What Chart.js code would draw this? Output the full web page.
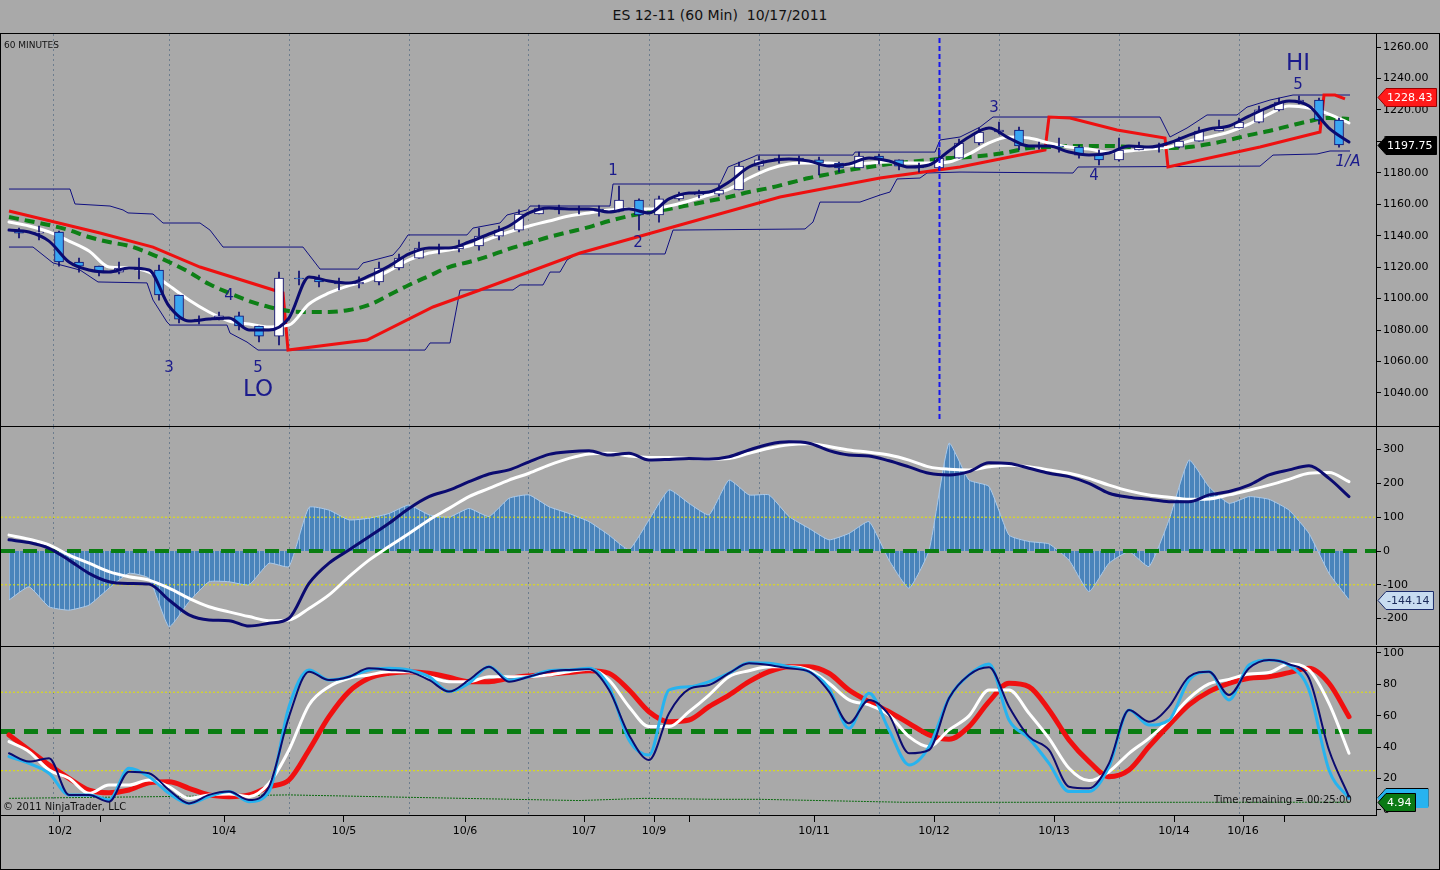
<!DOCTYPE html>
<html>
<head>
<meta charset="utf-8">
<title>ES 12-11 (60 Min) 10/17/2011</title>
<script src="https://cdn.jsdelivr.net/npm/chart.js@4.4.1/dist/chart.umd.min.js"></script>
<style>
  body { margin: 0; width: 1440px; height: 870px; overflow: hidden; position: relative;
         background: #a9a9a9; font-family: 'DejaVu Sans', sans-serif; }
  .pane { position: absolute; left: 0; }
  .rule { position: absolute; background: #000; }
  .txt { position: absolute; color: #111; white-space: nowrap; }
</style>
</head>
<body>
<div class="txt" style="left:0;width:1440px;top:7px;text-align:center;font-size:14px;">ES 12-11 (60 Min)&nbsp;&nbsp;10/17/2011</div>

<div class="pane" style="top:34px"><canvas id="price" width="1440" height="392"></canvas></div>
<div class="pane" style="top:427px"><canvas id="osc" width="1440" height="218"></canvas></div>
<div class="pane" style="top:647px"><canvas id="stoch" width="1440" height="223"></canvas></div>

<div class="rule" style="left:0;top:33px;width:1440px;height:1px"></div>
<div class="rule" style="left:0;top:426px;width:1440px;height:1px"></div>
<div class="rule" style="left:0;top:646px;width:1440px;height:1px"></div>
<div class="rule" style="left:0;top:869px;width:1440px;height:1px"></div>
<div class="rule" style="left:0;top:33px;width:1px;height:837px"></div>
<div class="rule" style="left:1439px;top:33px;width:1px;height:837px"></div>

<div class="txt" style="left:4px;top:40px;font-size:9px;">60 MINUTES</div>
<div class="txt" style="left:3px;top:801px;font-size:10px;">© 2011 NinjaTrader, LLC</div>
<div class="txt" style="left:1214px;top:794px;font-size:10px;">Time remaining = 00:25:00</div>

<script>
// ---- data (hourly bars, one sample every 4 bars) ----
const STEP = 4;
const X_MIN = -1.6, X_MAX = 273.4;

const gridBars = [8.8, 32, 56, 80, 104, 128, 150, 174, 198, 222, 246];
const sessionBar = 186;
const dateTickBars = [10.2, 18.2, 43, 67, 91.2, 115, 129, 136, 161, 185, 209, 233, 246.8, 255];
const dateLabels = ['10/2', '', '10/4', '10/5', '10/6', '10/7', '10/9', '', '10/11', '10/12', '10/13', '10/14', '10/16', ''];

const priceTicks = [1040, 1060, 1080, 1100, 1120, 1140, 1160, 1180, 1200, 1220, 1240, 1260];
const oscTicks = [-200, -100, 0, 100, 200, 300];
const stochTicks = [0, 20, 40, 60, 80, 100];

// candles, grouped 4 bars each
const firstOpen = 1143.0;
const closes = [1141.7, 1142.4, 1123.3, 1120.7, 1116.9, 1119.5, 1118.2, 1102.3, 1087.0, 1086.4,
  1089.0, 1082.6, 1076.2, 1113.1, 1112.5, 1110.6, 1109.3, 1110.6, 1119.5, 1125.8,
  1132.2, 1131.6, 1133.5, 1139.8, 1143.6, 1153.8, 1157.6, 1156.4, 1157.0, 1155.7,
  1162.7, 1153.2, 1163.4, 1165.9, 1166.5, 1169.1, 1184.3, 1188.2, 1189.4, 1188.2,
  1186.2, 1183.1, 1190.7, 1188.2, 1184.3, 1183.1, 1189.4, 1199.0, 1206.0, 1207.2,
  1197.1, 1197.1, 1196.4, 1191.3, 1188.2, 1194.5, 1197.1, 1196.4, 1200.2, 1206.6,
  1208.5, 1212.3, 1220.0, 1225.0, 1226.3, 1213.6, 1197.75];
const highs = [1144.9, 1146.2, 1143.0, 1125.8, 1120.7, 1123.3, 1125.8, 1121.4, 1102.3, 1089.0,
  1091.5, 1091.5, 1082.6, 1116.9, 1117.6, 1115.0, 1113.1, 1113.8, 1123.3, 1128.4,
  1136.0, 1134.7, 1137.3, 1144.9, 1146.2, 1156.4, 1159.5, 1159.5, 1158.9, 1158.9,
  1171.6, 1163.4, 1165.3, 1167.8, 1169.1, 1172.3, 1186.9, 1190.7, 1191.3, 1190.7,
  1190.1, 1186.9, 1193.2, 1192.0, 1188.2, 1186.2, 1195.8, 1201.5, 1208.5, 1212.3,
  1209.1, 1199.6, 1202.1, 1197.7, 1194.5, 1202.1, 1199.6, 1199.0, 1202.8, 1209.1,
  1213.6, 1214.9, 1222.5, 1227.6, 1228.8, 1227.6, 1214.9];
const lows = [1138.6, 1137.3, 1120.7, 1116.9, 1114.4, 1115.7, 1112.5, 1099.1, 1084.5, 1083.9,
  1086.4, 1080.1, 1072.4, 1070.5, 1108.7, 1107.4, 1105.5, 1106.8, 1108.7, 1118.2,
  1125.8, 1128.4, 1129.7, 1130.9, 1137.3, 1142.4, 1153.8, 1153.8, 1153.8, 1152.5,
  1155.1, 1143.6, 1148.7, 1162.7, 1164.0, 1165.3, 1169.1, 1181.8, 1186.2, 1185.6,
  1178.6, 1180.5, 1183.1, 1185.6, 1181.8, 1180.5, 1181.8, 1189.4, 1197.7, 1204.7,
  1194.5, 1195.1, 1193.2, 1189.4, 1185.0, 1187.5, 1194.5, 1193.2, 1195.8, 1200.2,
  1206.6, 1208.5, 1211.7, 1219.4, 1223.8, 1211.0, 1196.4];

// moving averages
const fastMA = [1143.6, 1142.4, 1136.6, 1123.3, 1118.2, 1116.9, 1119.5, 1118.2, 1095.3, 1085.8,
  1087.0, 1087.7, 1080.1, 1080.1, 1087.7, 1113.8, 1111.2, 1109.9, 1114.4, 1120.7,
  1128.4, 1132.2, 1132.2, 1136.0, 1141.1, 1146.2, 1154.5, 1157.6, 1157.0, 1157.0,
  1155.1, 1157.0, 1154.5, 1163.4, 1167.2, 1167.8, 1174.2, 1183.7, 1187.5, 1188.8,
  1187.5, 1184.3, 1185.6, 1189.4, 1187.5, 1183.7, 1185.0, 1193.9, 1202.8, 1208.5,
  1202.1, 1197.1, 1197.1, 1193.2, 1191.3, 1192.6, 1197.1, 1196.4, 1199.0, 1204.0,
  1207.9, 1209.8, 1216.1, 1221.8, 1225.7, 1222.5, 1208.5, 1199.6];
const midMA = [1148.7, 1146.2, 1142.4, 1136.6, 1130.3, 1120.1, 1119.5, 1116.9, 1108.3, 1099.1,
  1091.5, 1085.8, 1083.9, 1082.0, 1083.2, 1096.6, 1103.6, 1108.3, 1111.8, 1117.6,
  1124.6, 1129.0, 1130.9, 1133.5, 1137.9, 1142.4, 1146.2, 1149.4, 1152.5, 1154.5,
  1156.4, 1157.0, 1157.0, 1158.9, 1162.1, 1165.9, 1169.7, 1176.7, 1182.4, 1185.6,
  1186.2, 1186.2, 1185.0, 1186.2, 1186.9, 1186.2, 1186.2, 1186.9, 1192.0, 1199.0,
  1202.8, 1202.1, 1199.0, 1196.4, 1195.1, 1193.2, 1193.9, 1195.1, 1196.4, 1200.2,
  1202.8, 1206.0, 1211.0, 1217.4, 1222.5, 1221.2, 1217.4, 1211.7];
const slowMA = [1151.9, 1149.4, 1146.8, 1143.6, 1139.2, 1136.0, 1133.5, 1129.0, 1123.3, 1116.9,
  1109.3, 1103.6, 1098.5, 1094.7, 1092.1, 1091.5, 1091.5, 1092.8, 1096.0, 1102.3,
  1108.7, 1114.4, 1120.1, 1123.3, 1127.1, 1131.6, 1135.4, 1139.2, 1142.4, 1145.5,
  1149.4, 1152.5, 1155.1, 1157.0, 1159.5, 1162.1, 1164.6, 1167.8, 1170.3, 1173.5,
  1176.7, 1179.2, 1181.8, 1183.7, 1185.6, 1186.9, 1188.1, 1189.4, 1190.1, 1191.3,
  1193.2, 1195.8, 1196.4, 1197.1, 1197.1, 1197.1, 1196.4, 1195.8, 1195.8, 1196.4,
  1198.3, 1200.9, 1204.0, 1206.6, 1209.8, 1212.9, 1214.9, 1214.2];

// trailing stop (red) and price channel (thin navy), given at the bars where they turn
const stopBars = [0, 18.2, 28.8, 38.2, 54.8, 55.8, 71.6, 84.8, 94.2, 114.2, 134.2, 154.2, 174.2,
  190.2, 207.2, 208, 212.2, 221.6, 231.2, 231.8, 250.2, 262.2, 263, 265.2, 267.2];
const stopVals = [1155.7, 1141.7, 1132.8, 1120.1, 1103.6, 1067.3, 1073.7, 1094.7, 1105.5, 1129.0,
  1146.8, 1164.6, 1176.7, 1183.7, 1194.5, 1215.5, 1214.9, 1207.2, 1202.1, 1183.7, 1196.4, 1206.0,
  1229.5, 1229.5, 1227.0];
const lastStop = 1228.43;

const chanHiBars = [0, 12.2, 13.2, 20.2, 22.8, 23.8, 28.8, 30.8, 38.2, 40.2, 42.8, 58.8, 60.8, 62.2,
  69.8, 70.8, 76.8, 78.2, 79.8, 91.6, 92.8, 98.2, 99.6, 103.6, 104.2, 120.2, 120.8, 142.2, 143.8,
  148.8, 149.6, 168.8, 169.2, 185.2, 186.2, 190.2, 194.2, 196.8, 230.2, 232.2, 235.6, 239.6, 245.6,
  247.6, 252.2, 256.8, 268.2];
const chanHiVals = [1169.7, 1169.7, 1160.2, 1158.9, 1156.4, 1154.5, 1153.8, 1148.1, 1148.1, 1143.6,
  1132.8, 1132.8, 1124.6, 1118.8, 1118.8, 1122.7, 1127.7, 1132.8, 1140.5, 1140.5, 1144.9, 1148.1,
  1153.2, 1156.4, 1158.9, 1158.9, 1172.9, 1172.9, 1183.7, 1190.1, 1191.3, 1191.3, 1193.2, 1193.2,
  1200.9, 1202.8, 1209.1, 1215.5, 1215.5, 1202.8, 1208.5, 1216.8, 1216.8, 1221.8, 1226.3, 1229.5, 1229.5];
const chanLoBars = [0, 4.8, 8.8, 14.2, 17.8, 27.6, 28.8, 31.6, 32.2, 43.6, 44.2, 47.6, 49.8, 83.2,
  84.2, 88.2, 90.2, 100.8, 102.2, 106.8, 108.2, 110.2, 111.6, 113.6, 131.2, 132.8, 159.2, 160.8,
  162.2, 170.2, 174.2, 176.2, 177.6, 182.2, 183.6, 190.2, 212.8, 213.8, 250.2, 252.8, 261.6, 264.2, 268.2];
const chanLoVals = [1132.8, 1132.8, 1122.7, 1118.2, 1110.6, 1110.0, 1099.1, 1085.1, 1083.2, 1083.2,
  1078.1, 1072.4, 1067.3, 1067.3, 1071.8, 1071.8, 1105.5, 1105.5, 1108.7, 1108.7, 1116.9, 1116.9,
  1124.6, 1128.4, 1128.4, 1143.6, 1144.3, 1148.7, 1161.4, 1161.4, 1165.9, 1167.8, 1176.1, 1176.7,
  1179.9, 1180.5, 1179.9, 1183.7, 1184.3, 1191.3, 1192.0, 1193.9, 1193.9];

// wave count notes on the price panel
const waveText = ['3', '4', '5', 'LO', '1', '2', '3', '4', 'HI', '5', '1/A'];
const waveBar = [32, 44, 49.8, 49.8, 120.8, 125.8, 197, 217, 257.8, 257.8, 267.8];
const waveVal = [1055.9, 1101.7, 1055.9, 1041.9, 1181.2, 1135.4, 1221.2, 1178.0, 1249.0, 1235.8, 1187.0];

// oscillator panel
const oscHist = [-145, -106, -165, -175, -160, -110, -66, -81, -224, -150,
  -91, -91, -100, -36, -46, 129, 121, 92, 97, 111,
  136, 107, 100, 126, 102, 156, 166, 131, 111, 87,
  47, 4, 92, 181, 141, 107, 210, 166, 166, 102,
  67, 33, 52, 87, -27, -110, 1, 319, 210, 191,
  47, 28, 21, -27, -120, -36, -2, -46, 92, 269,
  190, 141, 161, 153, 121, 52, -66, -144.14];
const oscFast = [33, 25, 8, -27, -66, -91, -96, -98, -145, -189,
  -204, -206, -222, -214, -199, -96, -36, 3, 42, 82,
  126, 161, 180, 205, 228, 240, 264, 286, 294, 297,
  284, 289, 269, 271, 274, 272, 279, 299, 316, 323,
  319, 297, 284, 281, 267, 249, 230, 225, 235, 261,
  259, 245, 230, 220, 200, 171, 159, 153, 146, 146,
  166, 176, 195, 225, 240, 252, 215, 161];
const oscSlow = [47, 35, 18, -12, -36, -61, -76, -86, -110, -140,
  -165, -180, -194, -206, -204, -170, -130, -76, -27, 13,
  52, 92, 126, 161, 185, 210, 230, 254, 274, 287,
  289, 281, 277, 277, 274, 272, 274, 289, 304, 314,
  317, 309, 299, 292, 284, 269, 249, 242, 240, 249,
  254, 249, 240, 230, 215, 195, 178, 166, 159, 153,
  154, 166, 180, 195, 212, 230, 232, 205];
const oscLevels = [100, -100];

// stochastic panel
const stochK = [34.0, 29.7, 23.4, 9.6, 9.6, 6.4, 26.6, 21.2, 10.6, 4.2,
  8.5, 11.7, 5.3, 11.7, 65.8, 89.2, 82.8, 84.9, 89.2, 90.2,
  89.2, 84.9, 75.4, 80.7, 91.3, 82.8, 84.9, 88.7, 89.2, 90.2,
  78.5, 44.6, 35.0, 76.4, 78.5, 81.7, 87.1, 93.8, 93.4, 91.3,
  88.1, 77.5, 52.0, 74.3, 51.0, 28.7, 40.3, 71.1, 86.0, 93.0,
  57.3, 45.6, 29.7, 11.7, 11.7, 27.6, 63.7, 54.1, 57.3, 82.8,
  88.1, 70.1, 92.4, 95.5, 92.2, 76.4, 25.5, 7.4];
const stochFast = [36.1, 30.8, 32.9, 9.6, 9.6, 5.3, 24.4, 23.4, 12.7, 4.2,
  9.6, 11.7, 6.4, 14.8, 59.4, 88.1, 82.8, 84.9, 90.2, 89.2,
  88.1, 82.8, 75.4, 82.8, 91.3, 81.7, 84.9, 88.1, 89.2, 89.6,
  76.4, 47.8, 31.8, 61.6, 76.9, 79.6, 87.1, 93.4, 92.4, 90.2,
  88.1, 75.4, 55.2, 70.1, 60.5, 36.1, 38.2, 71.1, 86.0, 90.9,
  65.8, 46.7, 38.2, 14.8, 13.8, 29.7, 63.7, 56.2, 65.8, 84.9,
  88.1, 73.2, 90.2, 95.5, 92.8, 83.9, 38.2, 8.5];
const stochD = [43.5, 37.1, 25.5, 20.2, 10.6, 15.9, 15.9, 19.1, 14.8, 7.4,
  9.6, 10.2, 8.5, 17.0, 38.2, 66.9, 78.5, 83.9, 86.0, 88.1,
  88.1, 84.9, 81.7, 81.7, 84.9, 84.9, 84.9, 86.0, 88.1, 89.6,
  82.8, 65.8, 53.1, 53.1, 62.6, 73.2, 84.9, 88.7, 91.3, 91.3,
  89.2, 80.7, 70.1, 66.9, 60.5, 46.7, 40.3, 51.0, 59.9, 76.4,
  76.4, 61.6, 45.6, 26.6, 18.7, 24.4, 36.1, 45.6, 57.3, 71.1,
  80.3, 83.2, 86.6, 87.5, 93.0, 89.2, 67.9, 36.1];
const stochSlow = [47.8, 38.2, 28.7, 20.2, 12.7, 11.0, 12.7, 17.4, 18.0, 13.8,
  9.6, 8.5, 9.6, 14.8, 19.1, 38.2, 59.4, 75.4, 83.9, 87.1,
  88.1, 87.1, 84.5, 81.7, 81.7, 83.9, 85.4, 86.6, 87.5, 88.7,
  87.1, 76.4, 62.6, 56.2, 57.3, 65.8, 73.2, 81.7, 88.1, 91.3,
  91.3, 87.1, 76.4, 69.0, 62.6, 55.2, 47.8, 45.0, 53.1, 69.0,
  80.7, 78.5, 63.7, 44.6, 30.8, 21.2, 25.5, 40.3, 54.1, 66.9,
  75.4, 80.7, 83.9, 84.9, 87.5, 90.2, 80.7, 59.4];
const trendBars = [0, 30, 56, 81, 114, 127, 141, 150, 179, 206, 234, 268];
const trendVals = [7.4, 8.5, 9.6, 8.0, 6.0, 7.4, 6.8, 6.8, 4.9, 4.9, 4.9, 4.94];
const stochLevels = [75, 25];

// ---- helpers ----
const FONT = "'DejaVu Sans', sans-serif";
Chart.defaults.font.family = FONT;
Chart.defaults.font.size = 11;
Chart.defaults.color = '#000';

const NAVY = '#0b0b70';
const pts = arr => arr.map((v, i) => ({ x: i * STEP, y: v }));
const pairs = (xs, ys) => xs.map((x, i) => ({ x: x, y: ys[i] }));
const level = v => [{ x: X_MIN, y: v }, { x: X_MAX, y: v }];
const last = arr => arr[arr.length - 1];

// no label padding: keep the plot area flush with each pane
const noPad = s => { s.paddingTop = 0; s.paddingBottom = 0; s.paddingLeft = 0; s.paddingRight = 0; };

function smooth(data, color, width, order, extra) {
  return Object.assign({ type: 'line', data: data, borderColor: color, borderWidth: width, order: order,
    pointRadius: 0, fill: false, cubicInterpolationMode: 'monotone',
    borderCapStyle: 'round', borderJoinStyle: 'round' }, extra || {});
}
function straight(data, color, width, order, extra) {
  return Object.assign({ type: 'line', data: data, borderColor: color, borderWidth: width, order: order,
    pointRadius: 0, fill: false, tension: 0 }, extra || {});
}

function xGrid() {
  return {
    type: 'linear', min: X_MIN, max: X_MAX, offset: false,
    afterBuildTicks: s => { s.ticks = gridBars.map(v => ({ value: v })); },
    afterFit: s => { s.height = 0; noPad(s); },
    ticks: { display: false },
    grid: { color: '#6d7d8e', lineWidth: 1, drawTicks: false, offset: false },
    border: { display: false, dash: [2, 3] }
  };
}
function yRight(min, max, ticks, fmt) {
  return {
    position: 'right', min: min, max: max,
    afterBuildTicks: s => { s.ticks = ticks.map(v => ({ value: v })); },
    afterFit: s => { s.width = 64; noPad(s); },
    ticks: { padding: 2, callback: fmt, color: '#000', font: { size: 11 } },
    grid: { drawOnChartArea: false, drawTicks: true, tickLength: 5, color: '#000' },
    border: { display: true, color: '#000', width: 1 }
  };
}
function baseOptions(scales) {
  return {
    responsive: false, animation: false, events: [],
    layout: { padding: { left: 1, right: 0, top: 0, bottom: 0 }, autoPadding: false },
    plugins: { legend: { display: false }, tooltip: { enabled: false } },
    scales: scales
  };
}

// value tags on the right axis
function tagPlugin(tags) {
  return {
    id: 'tags',
    afterDraw(chart) {
      const ctx = chart.ctx, ys = chart.scales.y, x0 = chart.chartArea.right + 2;
      ctx.save();
      ctx.font = '11px ' + FONT;
      tags.forEach(t => {
        const py = Math.round(ys.getPixelForValue(t.value)) + 0.5;
        const w = t.text ? ctx.measureText(t.text).width + 13 : 50;
        ctx.beginPath();
        ctx.moveTo(x0, py);
        ctx.lineTo(x0 + 8, py - 9);
        ctx.lineTo(x0 + w, py - 9);
        ctx.lineTo(x0 + w, py + 9);
        ctx.lineTo(x0 + 8, py + 9);
        ctx.closePath();
        ctx.fillStyle = t.fill;
        ctx.fill();
        ctx.strokeStyle = t.stroke;
        ctx.lineWidth = 1;
        ctx.stroke();
        if (t.text) {
          ctx.fillStyle = t.color;
          ctx.textAlign = 'left';
          ctx.textBaseline = 'middle';
          ctx.fillText(t.text, x0 + 9, py + 1);
        }
      });
      ctx.restore();
    }
  };
}

// ---- price panel ----
const opens = closes.map((c, i) => (i ? closes[i - 1] : firstOpen));
const candleX = i => i * STEP + 2;
const isUp = i => closes[i] >= opens[i];

new Chart(document.getElementById('price'), {
  type: 'line',
  data: {
    datasets: [
      smooth(pts(fastMA), NAVY, 3, 0),
      { type: 'bar', order: 1, grouped: false, barThickness: 9, borderSkipped: false,
        data: closes.map((c, i) => ({ x: candleX(i), y: [opens[i], c] })),
        backgroundColor: ctx => (isUp(ctx.dataIndex) ? '#ffffff' : '#3aa6f2'),
        borderColor: NAVY, borderWidth: 1 },
      { type: 'bar', order: 2, grouped: false, barThickness: 1, borderWidth: 0,
        data: highs.map((h, i) => ({ x: candleX(i), y: [lows[i], h] })),
        backgroundColor: NAVY },
      smooth(pts(midMA), '#ffffff', 3, 3),
      smooth(pts(slowMA), '#0d7f16', 4, 4, { borderDash: [10, 6], borderCapStyle: 'butt' }),
      straight(pairs(stopBars, stopVals), '#ee1010', 3, 5),
      straight(pairs(chanHiBars, chanHiVals), '#101080', 1, 6),
      straight(pairs(chanLoBars, chanLoVals), '#101080', 1, 6)
    ]
  },
  options: baseOptions({
    x: xGrid(),
    y: yRight(1019.0, 1268.3, priceTicks, v => v.toFixed(2))
  }),
  plugins: [
    {
      id: 'notes',
      afterDatasetsDraw(chart) {
        const ctx = chart.ctx, xs = chart.scales.x, ys = chart.scales.y, a = chart.chartArea;
        ctx.save();
        const sx = Math.round(xs.getPixelForValue(sessionBar)) + 0.5;
        ctx.strokeStyle = '#1616ee';
        ctx.lineWidth = 2;
        ctx.setLineDash([5, 3]);
        ctx.beginPath();
        ctx.moveTo(sx, a.top + 4);
        ctx.lineTo(sx, a.bottom - 6);
        ctx.stroke();
        ctx.setLineDash([]);
        ctx.fillStyle = '#1b1b8c';
        ctx.textAlign = 'center';
        ctx.textBaseline = 'middle';
        waveText.forEach((t, i) => {
          const big = t === 'LO' || t === 'HI';
          ctx.font = (t === '1/A' ? 'italic ' : '') + (big ? '23px ' : '15px ') + FONT;
          ctx.fillText(t, xs.getPixelForValue(waveBar[i]), ys.getPixelForValue(waveVal[i]));
        });
        ctx.restore();
      }
    },
    tagPlugin([
      { value: lastStop, fill: '#ff1a1a', stroke: '#900', color: '#fff', text: lastStop.toFixed(2) },
      { value: last(closes), fill: '#000', stroke: '#000', color: '#fff', text: last(closes).toFixed(2) }
    ])
  ]
});

// ---- oscillator panel ----
const pc = document.createElement('canvas');
pc.width = 5; pc.height = 4;
const pg = pc.getContext('2d');
pg.fillStyle = '#4a84bb'; pg.fillRect(0, 0, 5, 4);
pg.fillStyle = '#93b5d8'; pg.fillRect(4, 0, 1, 4);
const histFill = pg.createPattern(pc, 'repeat');

new Chart(document.getElementById('osc'), {
  type: 'line',
  data: {
    datasets: [
      smooth(pts(oscFast), NAVY, 3, 0),
      smooth(pts(oscSlow), '#ffffff', 3, 1),
      straight(level(0), '#0a7d12', 4, 2, { borderDash: [14, 8] }),
      straight(level(oscLevels[0]), '#e4e400', 1, 3, { borderDash: [2, 2] }),
      straight(level(oscLevels[1]), '#e4e400', 1, 3, { borderDash: [2, 2] }),
      straight(pts(oscHist), '#a9c9ea', 1, 4, { fill: { target: 'origin' }, backgroundColor: histFill, tension: 0.15 })
    ]
  },
  options: baseOptions({
    x: xGrid(),
    y: yRight(-278.1, 366.9, oscTicks, v => String(v))
  }),
  plugins: [
    tagPlugin([
      { value: last(oscHist), fill: '#c8dcf1', stroke: '#1a2a6a', color: '#1a2a5a', text: last(oscHist).toFixed(2) }
    ])
  ]
});

// ---- stochastic panel ----
const stochScales = {
  x: xGrid(),
  xd: {
    type: 'linear', position: 'bottom', min: X_MIN, max: X_MAX, offset: false,
    afterBuildTicks: s => { s.ticks = dateTickBars.map(v => ({ value: v })); },
    afterFit: s => { s.height = 55; noPad(s); },
    ticks: { autoSkip: false, maxRotation: 0, padding: 3, color: '#000', font: { size: 11 },
             callback: (v, i) => dateLabels[i] },
    grid: { drawOnChartArea: false, drawTicks: true, tickLength: 7, color: '#000', offset: false },
    border: { display: true, color: '#000' }
  },
  y: yRight(-3.2, 103.8, stochTicks, v => String(v))
};

new Chart(document.getElementById('stoch'), {
  type: 'line',
  data: {
    datasets: [
      smooth(pts(stochFast), NAVY, 2, 0),
      smooth(pts(stochK), '#27b3ef', 3, 1),
      smooth(pts(stochD), '#ffffff', 3, 2),
      smooth(pts(stochSlow), '#f01010', 5, 3),
      straight(level(50), '#0a7d12', 5, 4, { borderDash: [14, 9] }),
      straight(level(stochLevels[0]), '#e4e400', 1, 5, { borderDash: [2, 2] }),
      straight(level(stochLevels[1]), '#e4e400', 1, 5, { borderDash: [2, 2] }),
      straight(pairs(trendBars, trendVals), '#0b6a10', 1, 6, { borderDash: [2, 1] })
    ]
  },
  options: baseOptions(stochScales),
  plugins: [
    tagPlugin([
      { value: last(stochFast), fill: '#27b3ef', stroke: '#000', color: '#000', text: '' },
      { value: last(stochK), fill: '#27b3ef', stroke: '#27b3ef', color: '#000', text: '' },
      { value: last(trendVals), fill: '#0b7a14', stroke: '#000', color: '#fff', text: last(trendVals).toFixed(2) }
    ])
  ]
});
</script>
</body>
</html>
